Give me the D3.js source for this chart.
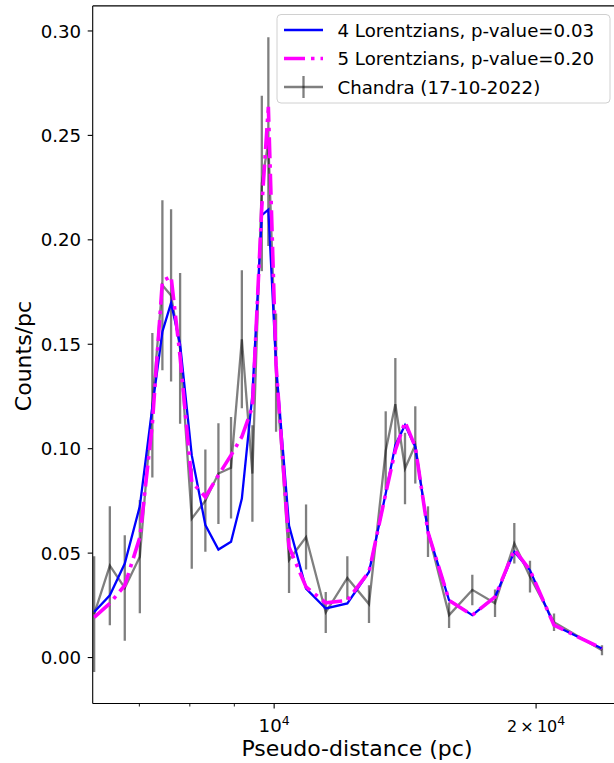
<!DOCTYPE html>
<html>
<head>
<meta charset="utf-8">
<script src="https://cdn.jsdelivr.net/npm/d3@7"></script>
<style>
body { margin: 0; background: #fff; }
svg { display: block; font-family: "DejaVu Sans", sans-serif; }
</style>
</head>
<body>
<div id="view"></div>
<script>
var width = 614, height = 763;

// pseudo-distance of each bin (pc)
var distances = [6211, 6474, 6735, 7009, 7245, 7440, 7613, 7797, 8041, 8336, 8629, 8922,
	9181, 9441, 9679, 9848, 10051, 10402, 10881, 11463, 12137, 12853, 13434, 13781,
	14138, 14528, 15025, 15887, 16894, 17941, 18880, 19680, 20972, 23810];

// Chandra (17-10-2022) counts/pc and 1 sigma errors
var chandra = [0.0208, 0.0440, 0.0333, 0.0483, 0.1208, 0.1783, 0.1734, 0.148, 0.0665, 0.0751, 0.0881, 0.0909,
	0.1524, 0.0881, 0.227, 0.247, 0.1364, 0.0467, 0.0577, 0.0216, 0.0381, 0.0256, 0.099, 0.1213,
	0.0905, 0.1018, 0.0603, 0.0203, 0.0324, 0.026, 0.0547, 0.0387, 0.0169, 0.0035];
var chandraErr = [0.0277, 0.0285, 0.0253, 0.0271, 0.0346, 0.0407, 0.0412, 0.0361, 0.024, 0.0245, 0.0241, 0.0243,
	0.033, 0.0231, 0.042, 0.05, 0.0283, 0.0158, 0.0156, 0.0098, 0.0104, 0.009, 0.0189, 0.0221,
	0.0171, 0.0185, 0.0121, 0.0061, 0.0073, 0.0066, 0.0097, 0.0076, 0.0042, 0.0024];

// model fits
var model4 = [0.0218, 0.0298, 0.045, 0.0725, 0.12, 0.156, 0.1698, 0.150, 0.0969, 0.0634, 0.0517, 0.0554,
	0.0761, 0.126, 0.2118, 0.2145, 0.14, 0.0632, 0.033, 0.0235, 0.0259, 0.041, 0.0785, 0.1017,
	0.1113, 0.1009, 0.0602, 0.0274, 0.0203, 0.029, 0.0506, 0.0418, 0.0155, 0.0043];
var model5 = [0.0192, 0.0259, 0.0346, 0.0575, 0.112, 0.1803, 0.1825, 0.144, 0.0841, 0.0769, 0.0873, 0.0969,
	0.1057, 0.12, 0.2158, 0.2637, 0.14, 0.053, 0.0338, 0.0262, 0.0274, 0.041, 0.0785, 0.0993,
	0.1128, 0.1009, 0.06, 0.0274, 0.0203, 0.029, 0.0517, 0.0418, 0.0155, 0.0043];

var yTicks = [0, 0.05, 0.10, 0.15, 0.20, 0.25, 0.30];
var xMajor = [10000, 20000];
var xMajorLabels = [["10", "4"], ["2\u2009\u00d7\u200910", "4"]];
var xMinor = [7000, 8000, 9000];

var legendNames = ["4 Lorentzians, p-value=0.03", "5 Lorentzians, p-value=0.20", "Chandra (17-10-2022)"];

var margin = { left: 92.7, right: 617, top: 5.9, bottom: 703.5 };
var fs = 18.2;   // tick + legend font

var svg = d3.select("#view").append("svg")
	.attr("width", width)
	.attr("height", height);

var x = d3.scaleLog().domain([6187, 24775]).range([margin.left, margin.right]);
var y = d3.scaleLinear().domain([-0.022, 0.312]).range([margin.bottom, margin.top]);

svg.append("clipPath").attr("id", "clip")
	.append("rect")
	.attr("x", margin.left).attr("y", margin.top)
	.attr("width", margin.right - margin.left)
	.attr("height", margin.bottom - margin.top);

var pts = distances.map(function(d, i) {
	return { x: d, c: chandra[i], e: chandraErr[i], m4: model4[i], m5: model5[i] };
});

var plot = svg.append("g").attr("clip-path", "url(#clip)");

// chandra: line + error bars
var gray = plot.append("g").attr("opacity", 0.5);
gray.append("path")
	.datum(pts)
	.attr("fill", "none")
	.attr("stroke", "#000")
	.attr("stroke-width", 2.3)
	.attr("d", d3.line().x(function(d) { return x(d.x); }).y(function(d) { return y(d.c); }));
plot.selectAll(".err")
	.data(pts).enter()
	.append("line")
	.attr("class", "err")
	.attr("x1", function(d) { return x(d.x); })
	.attr("x2", function(d) { return x(d.x); })
	.attr("y1", function(d) { return y(d.c - d.e); })
	.attr("y2", function(d) { return y(d.c + d.e); })
	.attr("stroke", "#000")
	.attr("stroke-opacity", 0.5)
	.attr("stroke-width", 2.3);

plot.append("path")
	.datum(pts)
	.attr("fill", "none")
	.attr("stroke", "#0000ff")
	.attr("stroke-width", 2.3)
	.attr("d", d3.line().x(function(d) { return x(d.x); }).y(function(d) { return y(d.m4); }));

plot.append("path")
	.datum(pts)
	.attr("fill", "none")
	.attr("stroke", "#ff00ff")
	.attr("stroke-width", 3.6)
	.attr("stroke-dasharray", "21,6,3.5,6")
	.attr("d", d3.line().x(function(d) { return x(d.x); }).y(function(d) { return y(d.m5); }));

// frame
svg.append("line").attr("x1", margin.left).attr("x2", margin.right + 5)
	.attr("y1", margin.top).attr("y2", margin.top).attr("stroke", "#000").attr("stroke-width", 1.1);
svg.append("line").attr("x1", margin.left).attr("x2", margin.right + 5)
	.attr("y1", margin.bottom).attr("y2", margin.bottom).attr("stroke", "#000").attr("stroke-width", 1.1);
svg.append("line").attr("x1", margin.left).attr("x2", margin.left)
	.attr("y1", margin.top).attr("y2", margin.bottom).attr("stroke", "#000").attr("stroke-width", 1.1);

// y axis
var yg = svg.append("g");
yg.selectAll("line").data(yTicks).enter().append("line")
	.attr("x1", margin.left - 5).attr("x2", margin.left)
	.attr("y1", function(d) { return y(d); }).attr("y2", function(d) { return y(d); })
	.attr("stroke", "#000").attr("stroke-width", 1.1);
yg.selectAll("text").data(yTicks).enter().append("text")
	.attr("x", margin.left - 11.5)
	.attr("y", function(d) { return y(d) + 6.6; })
	.attr("text-anchor", "end")
	.attr("font-size", fs)
	.text(function(d) { return d3.format(".2f")(d); });

// x axis
var xg = svg.append("g");
xg.selectAll(".maj").data(xMajor).enter().append("line")
	.attr("class", "maj")
	.attr("x1", function(d) { return x(d); }).attr("x2", function(d) { return x(d); })
	.attr("y1", margin.bottom).attr("y2", margin.bottom + 5)
	.attr("stroke", "#000").attr("stroke-width", 1.1);
xg.selectAll(".min").data(xMinor).enter().append("line")
	.attr("class", "min")
	.attr("x1", function(d) { return x(d); }).attr("x2", function(d) { return x(d); })
	.attr("y1", margin.bottom).attr("y2", margin.bottom + 3)
	.attr("stroke", "#000").attr("stroke-width", 0.9);
var xl = xg.selectAll(".xlab").data(xMajor).enter().append("text")
	.attr("class", "xlab")
	.attr("x", function(d) { return x(d); })
	.attr("y", 732)
	.attr("text-anchor", "middle")
	.attr("font-size", fs);
xl.append("tspan").text(function(d, i) { return xMajorLabels[i][0]; })
	.attr("font-size", function(d, i) { return i === 0 ? fs : 16; });
xl.append("tspan").text(function(d, i) { return xMajorLabels[i][1]; })
	.attr("font-size", 12.5).attr("dy", -7.5);

svg.append("text")
	.attr("x", 357).attr("y", 756)
	.attr("text-anchor", "middle")
	.attr("font-size", 22)
	.text("Pseudo-distance (pc)");
svg.append("text")
	.attr("transform", "translate(31,356) rotate(-90)")
	.attr("text-anchor", "middle")
	.attr("font-size", 22)
	.text("Counts/pc");

// legend
var lg = svg.append("g");
lg.append("rect")
	.attr("x", 277).attr("y", 14.5).attr("width", 333).attr("height", 88.5)
	.attr("rx", 4).attr("fill", "#fff").attr("fill-opacity", 0.8)
	.attr("stroke", "#d0d0d0").attr("stroke-width", 1);
var rows = [30, 58.5, 87];
lg.append("line").attr("x1", 284).attr("x2", 323).attr("y1", rows[0]).attr("y2", rows[0])
	.attr("stroke", "#0000ff").attr("stroke-width", 2.3);
lg.append("line").attr("x1", 284).attr("x2", 323).attr("y1", rows[1]).attr("y2", rows[1])
	.attr("stroke", "#ff00ff").attr("stroke-width", 3.6).attr("stroke-dasharray", "21,6,3.5,6");
lg.append("line").attr("x1", 284).attr("x2", 323).attr("y1", rows[2]).attr("y2", rows[2])
	.attr("stroke", "#000").attr("stroke-opacity", 0.5).attr("stroke-width", 2.3);
lg.append("line").attr("x1", 303.5).attr("x2", 303.5).attr("y1", rows[2] - 11).attr("y2", rows[2] + 11)
	.attr("stroke", "#000").attr("stroke-opacity", 0.5).attr("stroke-width", 2.3);
lg.selectAll("text").data(legendNames).enter().append("text")
	.attr("x", 337.5)
	.attr("y", function(d, i) { return rows[i] + 6.6; })
	.attr("font-size", fs)
	.text(function(d) { return d; });
</script>
</body>
</html>
